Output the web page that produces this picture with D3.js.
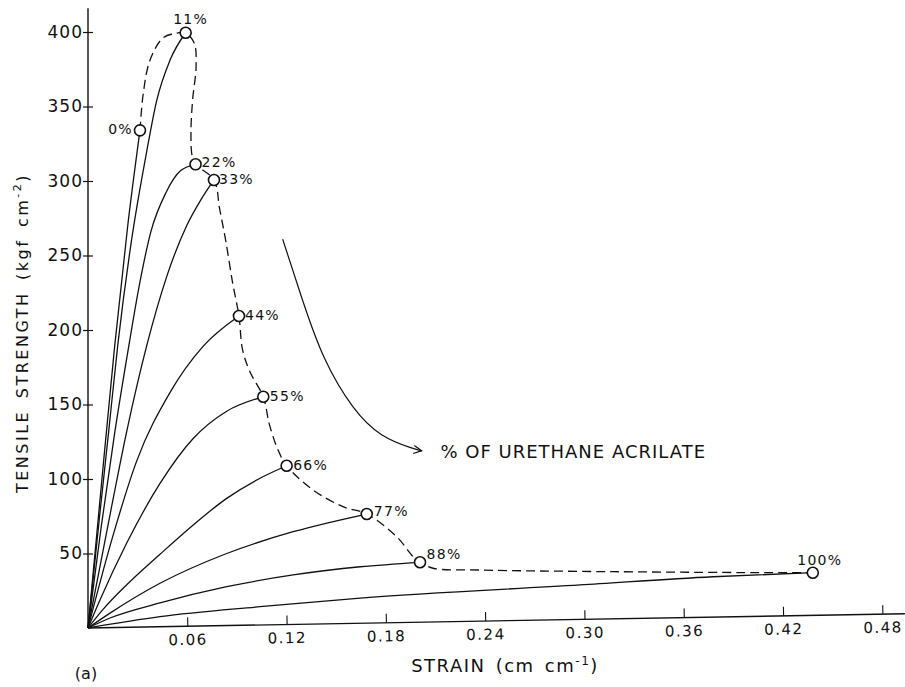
<!DOCTYPE html>
<html>
<head>
<meta charset="utf-8">
<script src="https://cdn.jsdelivr.net/npm/d3@7"></script>
<style>
  body { margin: 0; background: #fff; }
  text { font-family: "DejaVu Sans", sans-serif; fill: #111; }
</style>
</head>
<body>
<div id="chart"></div>
<script>
// % urethane acrylate for each stress-strain curve
var contents = ["0%", "11%", "22%", "33%", "44%", "55%", "66%", "77%", "88%", "100%"];

// [strain, tensile strength], last point = break point
var c0   = [[0,0],[0.008,95],[0.016,188],[0.024,270],[0.0314,334]];
var c11  = [[0,0],[0.007,75],[0.0125,132],[0.018,190],[0.026,258],[0.0355,320],[0.0415,354],[0.0495,381],[0.059,399.5]];
var c22  = [[0,0],[0.008,68],[0.016,130],[0.024,185],[0.031,230],[0.038,266],[0.047,292],[0.056,307],[0.065,311.2]];
var c33  = [[0,0],[0.0133,76],[0.0234,132],[0.0356,190],[0.0476,236],[0.0596,270],[0.068,287],[0.0761,300.7]];
var c44  = [[0,0],[0.0151,62],[0.0294,112],[0.0495,158],[0.0695,189],[0.0912,209.4]];
var c55  = [[0,0],[0.0073,19],[0.0234,57],[0.0435,97],[0.0634,127],[0.0838,145.5],[0.1059,155.2]];
var c66  = [[0,0],[0.0091,12.5],[0.0234,29],[0.0435,49.5],[0.0634,69],[0.0838,87],[0.1039,100.5],[0.120,108.9]];
var c77  = [[0,0],[0.0133,10],[0.0435,30],[0.0838,50],[0.1239,64.6],[0.1684,76.5]];
var c88  = [[0,0],[0.0133,6.7],[0.0435,16.8],[0.0838,27.7],[0.1239,35.6],[0.1644,41.1],[0.2006,44.1]];
var c100 = [[0,0],[0.0435,7.6],[0.1039,14.3],[0.1644,20.1],[0.2973,28.9],[0.3776,34.4],[0.4379,37.1]];
var curves = [c0, c11, c22, c33, c44, c55, c66, c77, c88, c100];

// dashed line joining the break points
var envelope = [[0.0314,333.8],[0.0334,358.9],[0.0375,381.2],[0.0453,396],[0.0536,399.3],[0.059,399.5],
    [0.0642,392.4],[0.0653,376.7],[0.0632,354.4],[0.0622,332.2],[0.063,316.3],[0.065,311.2],
    [0.0761,300.7],[0.0795,281.5],[0.0832,260],[0.0874,231.5],[0.0912,209.4],[0.0934,186.6],
    [0.0979,171.8],[0.1059,155.2],[0.1095,137],[0.1148,119.5],[0.120,108.9],[0.136,92.6],
    [0.1541,81.4],[0.1684,76.5],[0.1865,61.3],[0.1964,47.9],[0.2006,44.1],[0.2085,40.1],
    [0.2369,38.9],[0.3172,37.8],[0.4181,37.1],[0.4379,37.1]];

// arrow showing increasing urethane acrylate
var arrowPath = [[0.1176,261],[0.1301,218],[0.142,180],[0.1601,146.3],[0.1764,128.2],[0.1986,119.5],[0.2016,119]];

var xTicks = [0.06, 0.12, 0.18, 0.24, 0.30, 0.36, 0.42, 0.48];
var yTicks = [50, 100, 150, 200, 250, 300, 350, 400];

// label offsets [dx, dy, anchor]
var labelPos = [[-7,4,"end"],[5,-9,"middle"],[6,3,"start"],[5,4.5,"start"],[6,4.5,"start"],
    [6.5,4.5,"start"],[6.5,4.5,"start"],[7,2,"start"],[6.5,-3,"start"],[7,-8,"middle"]];

const width = 905, height = 687;

var xScale = d3.scaleLinear().domain([0, 0.48]).range([88, 882.5]);
var yScale = d3.scaleLinear().domain([0, 400]).range([628, 32]);

var svg = d3.select("#chart").append("svg")
    .attr("width", width)
    .attr("height", height);

// y axis
var yAxis = d3.axisLeft(yScale).tickValues(yTicks).tickSize(5).tickPadding(0);
var gy = svg.append("g")
    .attr("transform", "translate(" + xScale(0) + ",0)")
    .call(yAxis);
gy.select(".domain").remove();
gy.selectAll(".tick line").attr("x1", 5).attr("stroke", "#111").attr("stroke-width", 1.2);
gy.selectAll(".tick text")
    .style("font-size", "17px")
    .style("letter-spacing", "1px")
    .style("font-family", "DejaVu Sans");
gy.append("line")
    .attr("y1", yScale(0)).attr("y2", yScale(416))
    .attr("stroke", "#111").attr("stroke-width", 1.4);

// x axis (slightly tilted, as in the scan)
var xAxis = d3.axisBottom(xScale).tickValues(xTicks).tickSize(-9).tickPadding(8)
    .tickFormat(d3.format(".2f"));
var gx = svg.append("g")
    .attr("transform", "translate(0," + yScale(0) + ") rotate(-1," + xScale(0) + ",0)")
    .call(xAxis);
gx.select(".domain").remove();
gx.selectAll(".tick line").attr("stroke", "#111").attr("stroke-width", 1.1);
gx.selectAll(".tick text")
    .style("font-size", "15px")
    .style("letter-spacing", "1.5px")
    .style("font-family", "DejaVu Sans");
gx.append("line")
    .attr("x1", xScale(0)).attr("x2", width)
    .attr("stroke", "#111").attr("stroke-width", 1.4);

var line = d3.line()
    .x(d => xScale(d[0]))
    .y(d => yScale(d[1]))
    .curve(d3.curveMonotoneX);

var envLine = d3.line()
    .x(d => xScale(d[0]))
    .y(d => yScale(d[1]))
    .curve(d3.curveCatmullRom.alpha(0.5));

svg.append("g").selectAll("path")
    .data(curves)
    .enter()
    .append("path")
    .attr("d", line)
    .attr("fill", "none")
    .attr("stroke", "#111")
    .attr("stroke-width", 1.3);

svg.append("path")
    .attr("d", envLine(envelope))
    .attr("fill", "none")
    .attr("stroke", "#111")
    .attr("stroke-width", 1.3)
    .attr("stroke-dasharray", "9,5");

svg.append("g").selectAll("circle")
    .data(curves)
    .enter()
    .append("circle")
    .attr("cx", d => xScale(d[d.length - 1][0]))
    .attr("cy", d => yScale(d[d.length - 1][1]))
    .attr("r", 5.5)
    .attr("fill", "#fff")
    .attr("stroke", "#111")
    .attr("stroke-width", 1.6);

svg.append("g").selectAll("text")
    .data(curves)
    .enter()
    .append("text")
    .attr("x", (d, i) => xScale(d[d.length - 1][0]) + labelPos[i][0])
    .attr("y", (d, i) => yScale(d[d.length - 1][1]) + labelPos[i][1])
    .attr("text-anchor", (d, i) => labelPos[i][2])
    .style("font-size", "14px")
    .style("letter-spacing", "1.3px")
    .text((d, i) => contents[i]);

// arrow + note
svg.append("defs").append("marker")
    .attr("id", "arrow")
    .attr("viewBox", "0 0 10 10")
    .attr("refX", 9).attr("refY", 5)
    .attr("markerWidth", 10).attr("markerHeight", 10)
    .attr("markerUnits", "userSpaceOnUse")
    .attr("orient", "auto")
    .append("path")
    .attr("d", "M1,1 L9,5 L1,9")
    .attr("fill", "none")
    .attr("stroke", "#111")
    .attr("stroke-width", 1.2);

svg.append("path")
    .attr("d", d3.line().x(d => xScale(d[0])).y(d => yScale(d[1])).curve(d3.curveBasis)(arrowPath))
    .attr("fill", "none")
    .attr("stroke", "#111")
    .attr("stroke-width", 1.2)
    .attr("marker-end", "url(#arrow)");

svg.append("text")
    .attr("x", xScale(0.2129))
    .attr("y", yScale(114))
    .style("font-size", "18px")
    .style("letter-spacing", "1px")
    .text("% OF URETHANE ACRILATE");

// axis titles
var xt = svg.append("text")
    .attr("x", 505)
    .attr("y", 672)
    .attr("text-anchor", "middle")
    .style("font-size", "18px")
    .style("letter-spacing", "1.5px")
    .style("word-spacing", "3px");
xt.append("tspan").text("STRAIN (cm cm");
xt.append("tspan").attr("dy", -7).style("font-size", "12px").text("-1");
xt.append("tspan").attr("dy", 7).text(")");

var yt = svg.append("text")
    .attr("transform", "translate(28,333) rotate(-90)")
    .attr("text-anchor", "middle")
    .style("font-size", "16px")
    .style("letter-spacing", "2.5px")
    .style("word-spacing", "4px");
yt.append("tspan").text("TENSILE STRENGTH (kgf cm");
yt.append("tspan").attr("dy", -7).style("font-size", "11px").text("-2");
yt.append("tspan").attr("dy", 7).text(")");

svg.append("text")
    .attr("x", 86)
    .attr("y", 679)
    .attr("text-anchor", "middle")
    .style("font-size", "16px")
    .text("(a)");
</script>
</body>
</html>
